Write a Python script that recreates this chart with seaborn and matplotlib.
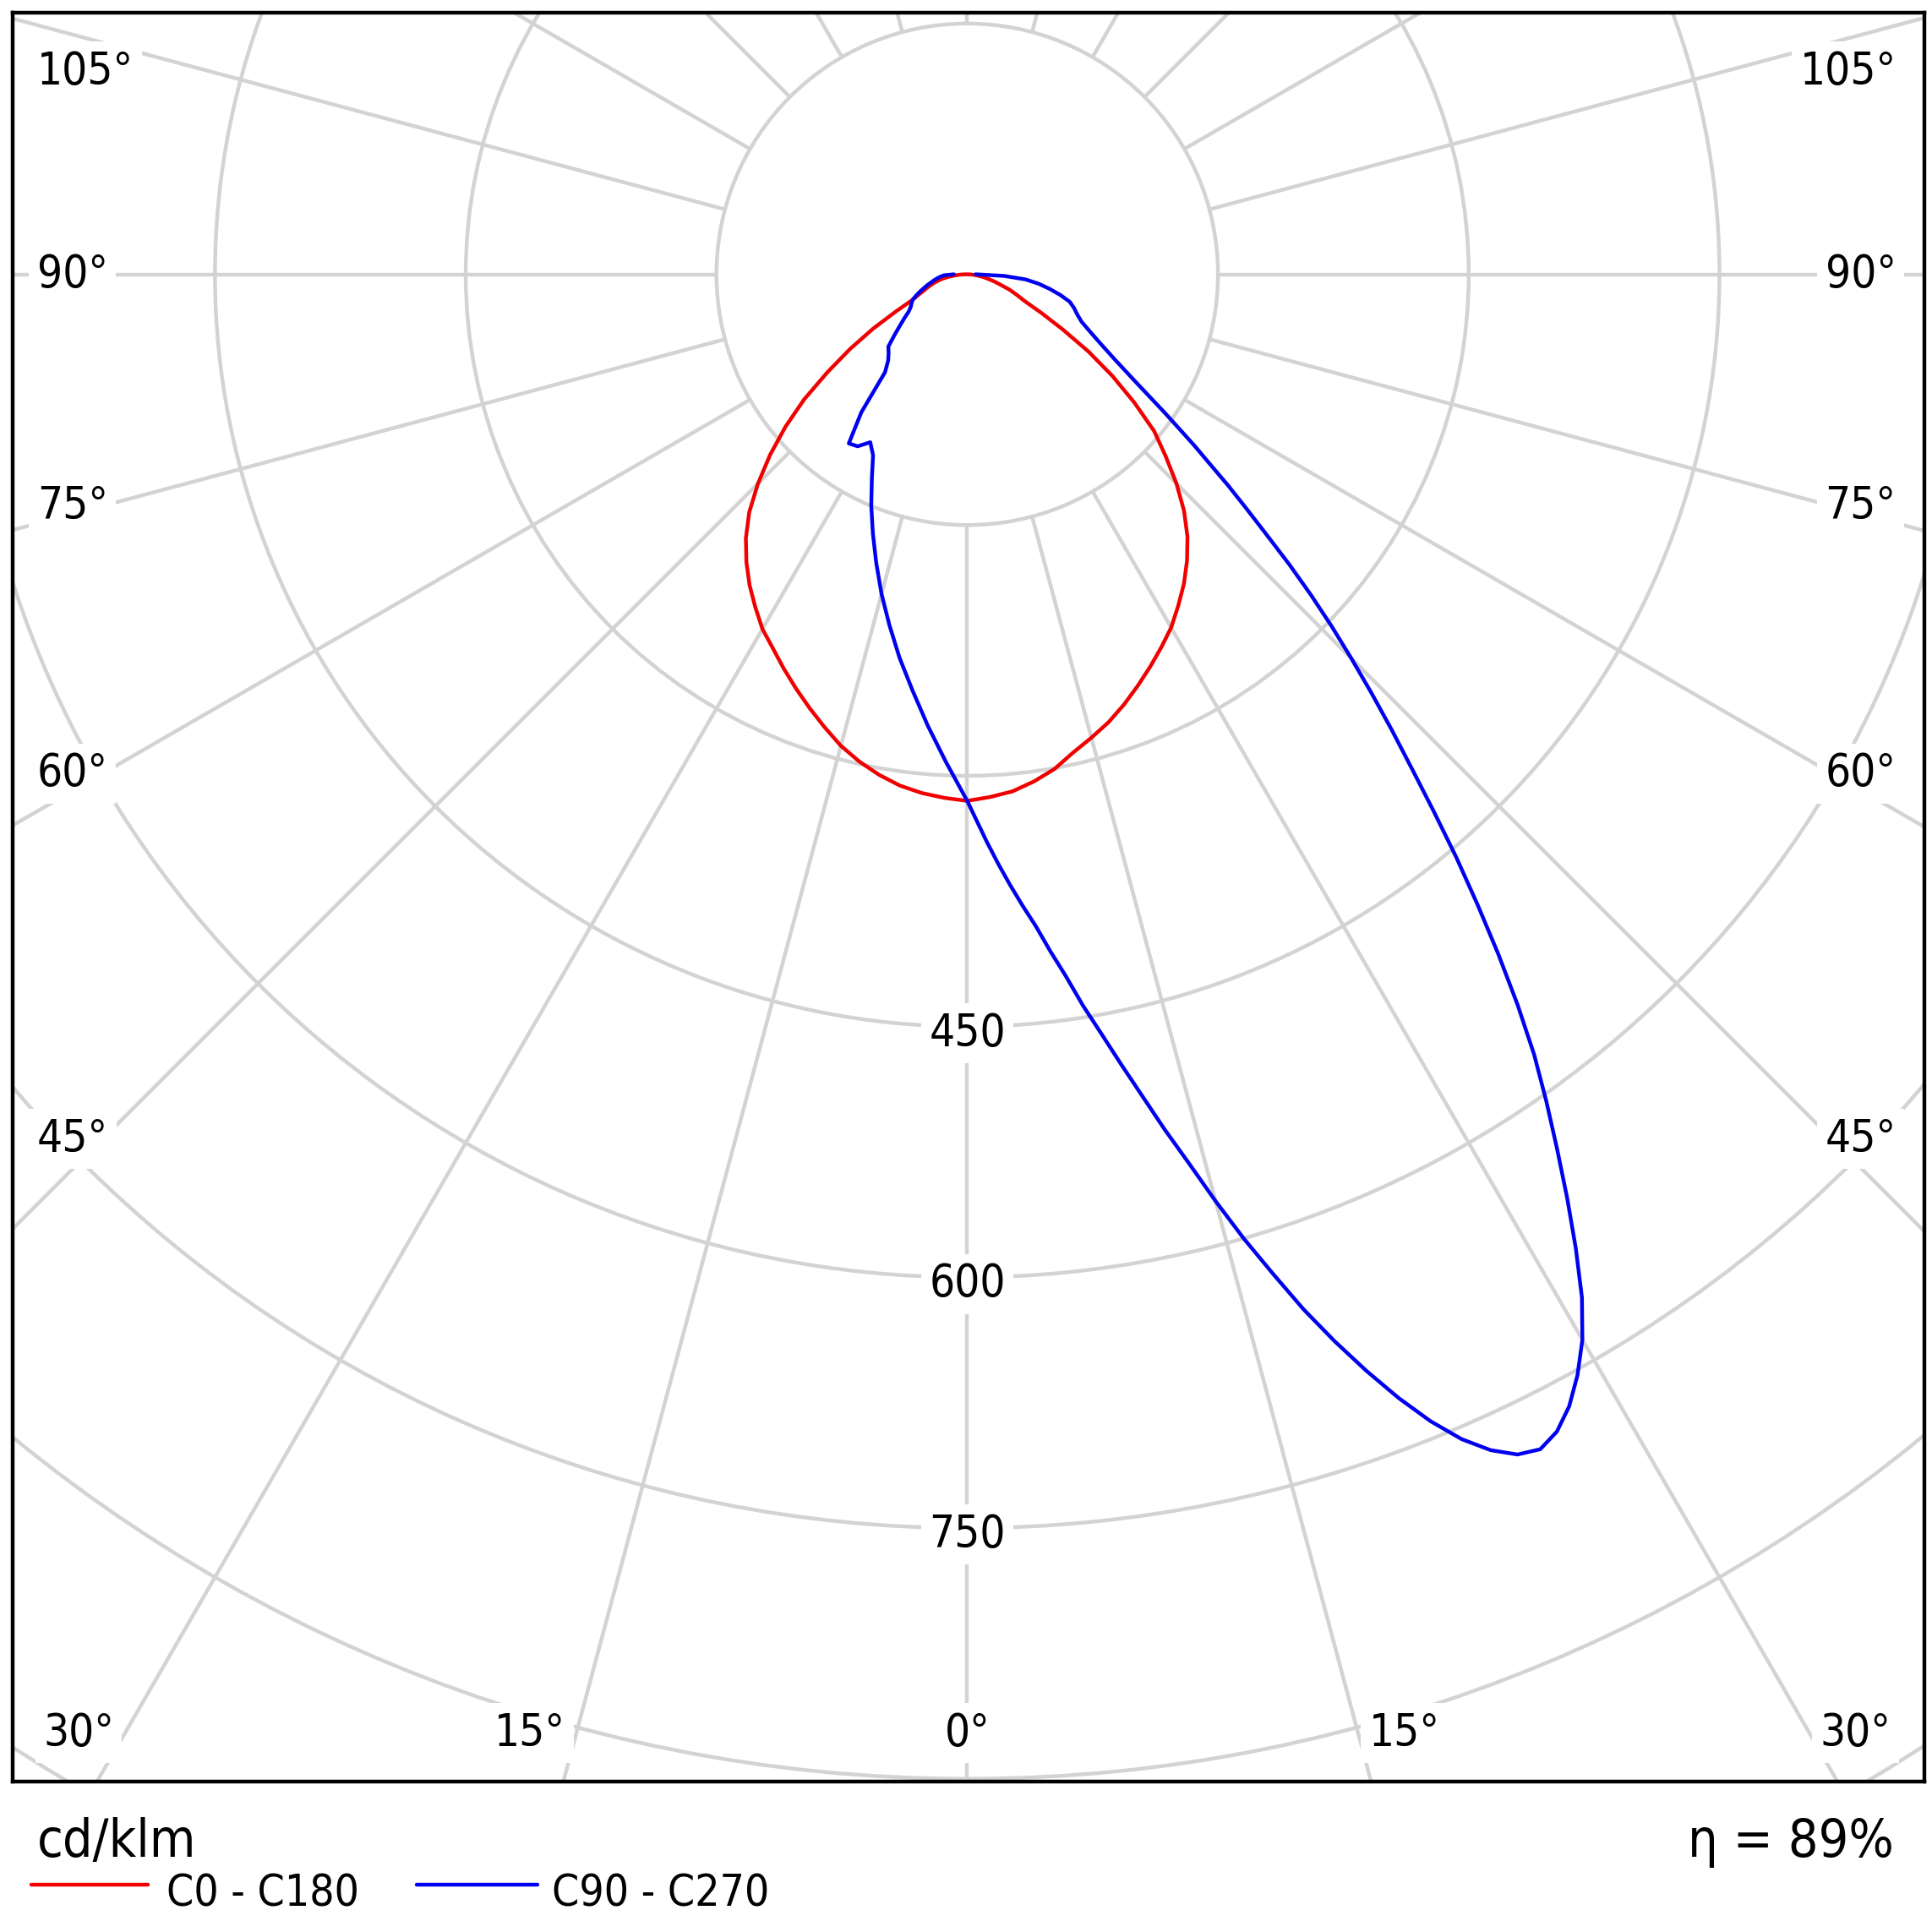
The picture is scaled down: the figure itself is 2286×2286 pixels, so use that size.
import numpy as np
import pandas as pd
import matplotlib
matplotlib.use("Agg")
import matplotlib.pyplot as plt
from matplotlib.patches import Circle
from matplotlib.lines import Line2D
import seaborn as sns

# gamma angles (deg from nadir) and intensities in cd/klm
gamma = [0, 2.5, 5, 7.5, 10, 12.5, 15, 17.5, 20, 22.5, 25, 27.5, 30, 32.5, 35, 37.5,
         40, 42.5, 45, 47.5, 50, 52.5, 55, 57.5, 60, 62.5, 65, 67.5, 70, 72.5, 75,
         77.5, 80, 82.5, 85, 87.5, 90]
c0 = [315, 313, 310.5, 306, 300.5, 293, 287, 281, 274, 266.5, 259, 251.5, 244, 235,
      226, 216, 205, 192, 177, 161, 146, 126, 106, 86, 66, 50, 38, 32, 27, 21, 17,
      13, 10, 7, 4, 2, 0]
c180 = [315, 313.5, 311.5, 308.5, 304, 298.5, 292, 284, 276, 268, 260, 252, 245, 236,
        227, 217, 206, 193, 177, 160, 142, 123, 102, 83, 65, 48, 36, 31, 27, 24, 21,
        18, 15, 11, 7, 4, 1]
c270 = [315, 292, 271, 251, 233, 215, 198, 181, 165, 150, 135, 122, 116, 122, 123.5,
        104, 76.5, 70, 66.5, 64, 57, 51, 46, 41.5, 39, 37.5, 36, 33, 30, 27, 24.5, 22,
        20, 18, 16, 14, 8]

# C90 is read at a finer step (its lobe is large)
gamma_c90 = [0, 1, 2, 3, 4, 5, 6, 7, 8, 9, 10, 11, 12, 13, 14, 15, 16, 17, 18, 19, 20,
             21, 22, 23, 24, 25, 26, 27, 28, 29, 30, 31, 32, 33, 34, 35, 36, 37, 38, 39,
             40, 41, 42, 43, 44, 45, 46, 47, 48, 49, 50, 51, 52, 53, 54, 55, 57.5, 60,
             62.5, 65, 67.5, 70, 72.5, 75, 77.5, 80, 82.5, 85, 87.5, 90]
c90 = [315, 327, 340, 353, 366, 379, 392, 408, 424, 443, 461, 481, 502, 525, 548, 574,
       600, 625, 651, 675, 698, 720, 740, 757, 770, 779, 782, 777, 767, 753, 736, 714,
       687, 659, 631, 604, 577, 547, 516, 485, 455, 425, 397, 372, 348, 325, 303, 281,
       259, 237, 218, 201, 184, 170, 156, 144, 119, 102, 90, 81, 74, 70, 67, 63.5, 57,
       50, 43, 35, 22, 5]

ring_values = [150, 300, 450, 600, 750, 900, 1050]
ring_labels = [450, 600, 750]
spoke_angles = list(range(0, 360, 15))
side_labels = [105, 90, 75, 60, 45]
bottom_labels = [30, 15, 0]
legend_names = ["C0 - C180", "C90 - C270"]
line_colors = ["#f00000", "#0000f0"]
unit_text = "cd/klm"
eta_text = "η = 89%"

sns.set_style("white")
plt.rcParams["font.family"] = ["DejaVu Sans"]

fig = plt.figure(figsize=(22.86, 22.86), dpi=100)
ax = fig.add_axes([10 / 1564, 122 / 1564, 1548 / 1564, 1432 / 1564])
ax.set_xlim(-571.2, 572.7)
ax.set_ylim(-901.5, 156.7)
ax.set_aspect("equal")
ax.set_xticks([])
ax.set_yticks([])
for s in ax.spines.values():
    s.set_color("black")
    s.set_linewidth(3.2)

grid_col = "#d3d3d3"
for r in ring_values:
    ax.add_patch(Circle((0, 0), r, fill=False, ec=grid_col, lw=3.2, zorder=1))
for a in spoke_angles:
    t = np.radians(a)
    ax.plot([150 * np.sin(t), 1200 * np.sin(t)], [-150 * np.cos(t), -1200 * np.cos(t)],
            color=grid_col, lw=3.2, zorder=1, solid_capstyle="butt")


def outline(g_left, left, g_right, right):
    gl = np.radians(g_left)[::-1]
    gr = np.radians(g_right)
    il = np.array(left, dtype=float)[::-1]
    ir = np.array(right, dtype=float)
    xs = np.concatenate([-il * np.sin(gl), ir * np.sin(gr)])
    ys = np.concatenate([-il * np.cos(gl), -ir * np.cos(gr)])
    return pd.DataFrame({"x": xs, "y": ys})


curves = [outline(gamma, c180, gamma, c0), outline(gamma, c270, gamma_c90, c90)]
for df, col in zip(curves, line_colors):
    sns.lineplot(data=df, x="x", y="y", sort=False, estimator=None, color=col,
                 lw=3.2, ax=ax, zorder=4)
ax.set_xlabel("")
ax.set_ylabel("")

box = dict(boxstyle="square,pad=0.18", fc="white", ec="none")
lab_kw = dict(fontsize=38, fontstretch="condensed", color="black", zorder=3, bbox=box)

probe = 517.3
top_y = 121.2
bot_y = -872.7
for a in side_labels:
    t = np.radians(a)
    y = min(-probe * np.cos(t) / np.sin(t), top_y)
    ax.text(-556.4, y, f"{a}°", ha="left", va="center", **lab_kw)
    ax.text(555.7, y, f"{a}°", ha="right", va="center", **lab_kw)
for a in bottom_labels:
    if a == 0:
        ax.text(0, bot_y, "0°", ha="center", va="center", **lab_kw)
        continue
    x = -bot_y * np.tan(np.radians(a)) + 6.5
    ax.text(-x, bot_y, f"{a}°", ha="right", va="center", **lab_kw)
    ax.text(x, bot_y, f"{a}°", ha="left", va="center", **lab_kw)
for r in ring_labels:
    ax.text(0, -r - 4, str(r), ha="center", va="center", **lab_kw)

# footer
foot_kw = dict(color="black", fontstretch="condensed", va="baseline")
fig.text(30 / 1564, 61 / 1564, unit_text, fontsize=45, ha="left", **foot_kw)
fig.text(1533 / 1564, 61 / 1564, eta_text, fontsize=45, ha="right", **foot_kw)
leg_x = [(25, 120, 135), (337, 435, 447)]
for (x0, x1, xt), name, col in zip(leg_x, legend_names, line_colors):
    fig.add_artist(Line2D([x0 / 1564, x1 / 1564], [38 / 1564, 38 / 1564], color=col, lw=3.2))
    fig.text(xt / 1564, 21 / 1564, name, fontsize=37, ha="left", **foot_kw)

fig.savefig("out.png", dpi=100)
